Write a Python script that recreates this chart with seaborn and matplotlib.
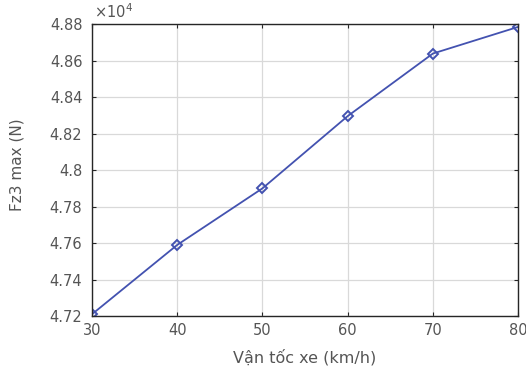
import matplotlib
matplotlib.use("Agg")
import matplotlib.pyplot as plt
import seaborn as sns
import pandas as pd

speed = [30, 40, 50, 60, 70, 80]
fz3_max = [4.721, 4.759, 4.790, 4.8296, 4.8639, 4.8785]  # x10^4 N
y_ticks = [4.72, 4.74, 4.76, 4.78, 4.80, 4.82, 4.84, 4.86, 4.88]
y_tick_labels = ["4.72", "4.74", "4.76", "4.78", "4.8", "4.82", "4.84", "4.86", "4.88"]
x_ticks = [30, 40, 50, 60, 70, 80]

sns.set_style("white")
plt.rcParams['font.family'] = ['DejaVu Sans']

df = pd.DataFrame({"speed": speed, "fz": fz3_max})

fig = plt.figure(figsize=(5.26, 3.72), dpi=100)
ax = fig.add_axes([0.175, 0.1505, 0.81, 0.7845])
sns.lineplot(data=df, x="speed", y="fz", ax=ax, color="#4352b0", linewidth=1.3,
             marker="D", markersize=5.5, markerfacecolor="none",
             markeredgecolor="#4352b0", markeredgewidth=1.4)

ax.set_xlim(30, 80)
ax.set_ylim(4.72, 4.88)
ax.set_xticks(x_ticks)
ax.set_yticks(y_ticks)
ax.set_yticklabels(y_tick_labels)
ax.grid(True, color="#d9d9d9", linewidth=0.9)
ax.tick_params(axis="both", direction="in", length=3, colors="#262626",
               labelcolor="#555555", labelsize=10.5,
               top=True, right=True, bottom=True, left=True)
ax.tick_params(axis="y", pad=7)
ax.tick_params(axis="x", pad=5)
for s in ax.spines.values():
    s.set_color("#262626")
    s.set_linewidth(1.0)
ax.set_xlabel("Vận tốc xe (km/h)", fontsize=11.5, color="#555555")
ax.set_ylabel("Fz3 max (N)", fontsize=11, color="#555555")
ax.xaxis.set_label_coords(0.5, -0.112)
ax.yaxis.set_label_coords(-0.158, 0.52)
ax.text(0.005, 1.012, r"$\times10^4$", transform=ax.transAxes, fontsize=10.5,
        color="#555555", ha="left", va="bottom")

fig.savefig("out.png", dpi=100)
